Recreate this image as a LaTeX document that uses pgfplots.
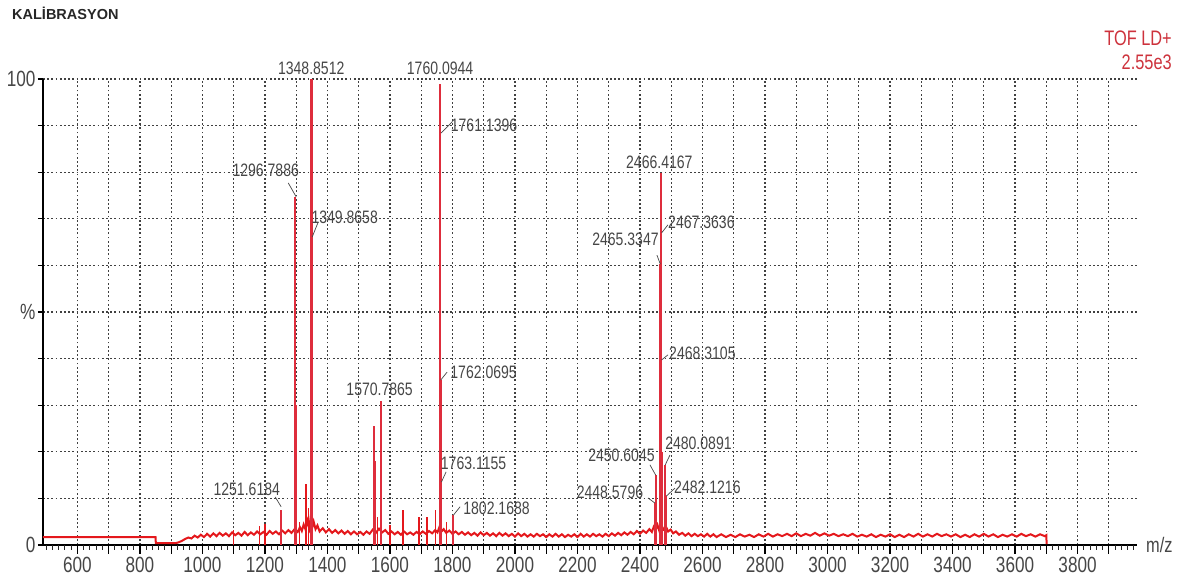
\documentclass[border=0pt]{standalone}
\usepackage{pgfplots}
\pgfplotsset{compat=1.18}
\usepackage{fontspec}
\setmainfont{Liberation Sans}
\newfontfamily\cf[FakeStretch=0.78]{Liberation Sans}
\definecolor{specred}{RGB}{228,24,28}
\definecolor{peakred}{RGB}{222,45,60}
\definecolor{labgray}{RGB}{70,70,70}
\definecolor{tofred}{RGB}{205,50,60}
\begin{document}
\begin{tikzpicture}
\path[use as bounding box] (0,0) rectangle (1179pt,586pt);
\begin{axis}[
  at={(43pt,41pt)}, anchor=south west,
  scale only axis, width=1094pt, height=466pt,
  xmin=490, xmax=3990, ymin=0, ymax=100,
  clip=false,
  axis x line*=bottom, axis y line*=left,
  axis line style={line width=2.4pt, black},
  xtick={600,700,...,3900},
  xticklabels={600,{},800,{},1000,{},1200,{},1400,{},1600,{},1800,{},2000,{},2200,{},2400,{},2600,{},2800,{},3000,{},3200,{},3400,{},3600,{},3800,{}},
  ytick={0,10,...,100},
  yticklabels={0,{},{},{},{},\%,{},{},{},{},100},
  tick align=outside,
  major tick length=5pt,
  major tick style={black, line width=1.1pt},
  xmajorgrids, ymajorgrids,
  major grid style={black!75, line width=1.3pt, dash pattern=on 1.8pt off 2.4pt},
  xticklabel style={font=\cf\fontsize{22}{22}\selectfont, text=labgray, yshift=-4pt},
  yticklabel style={font=\cf\fontsize{22}{22}\selectfont, text=labgray, xshift=1pt},
]
% noisy baseline
\addplot[specred, line width=2pt, mark=none] coordinates {
(490,1.7) (850,1.7) (851,0.4) (915,0.4) (925,0.6) (935,0.9) (945,1.3) (955,1.6)
(965,1.4) (975,2.0) (985,1.6) (995,2.2) (1005,1.7) (1015,2.4) (1025,1.8) (1035,2.5)
(1045,1.9) (1055,2.6) (1065,2.0) (1075,2.5) (1085,1.9) (1095,2.7) (1105,2.1) (1115,2.6)
(1125,2.0) (1135,2.8) (1145,2.1) (1155,2.7) (1165,2.2) (1175,2.9) (1185,2.3) (1195,2.8)
(1205,2.2) (1215,3.0) (1225,2.4) (1235,2.9) (1245,2.3) (1255,3.1) (1265,2.5) (1275,3.2)
(1285,2.6) (1295,3.4) (1305,2.8) (1312,3.8) (1318,3.0) (1324,4.4) (1330,3.3) (1336,5.2)
(1342,3.6) (1346,5.8) (1352,3.9) (1356,5.0) (1362,3.4) (1368,4.2) (1375,2.9) (1385,3.6)
(1395,2.7) (1405,3.4) (1415,2.6) (1425,3.2) (1435,2.5) (1445,3.1) (1455,2.4) (1465,3.0)
(1475,2.3) (1485,2.9) (1495,2.3) (1505,2.8) (1515,2.2) (1525,2.9) (1535,2.4) (1545,3.3)
(1555,2.6) (1565,3.5) (1575,2.7) (1585,3.2) (1595,2.4) (1605,2.9) (1615,2.3) (1625,2.8)
(1635,2.2) (1645,2.9) (1655,2.3) (1665,2.7) (1675,2.2) (1685,2.8) (1695,2.3) (1705,2.9)
(1715,2.4) (1725,3.0) (1735,2.5) (1745,3.2) (1752,2.7) (1758,3.8) (1765,2.9) (1772,3.4)
(1780,2.6) (1790,3.1) (1800,2.4) (1810,2.9) (1820,2.3) (1830,2.8) (1840,2.2) (1850,2.7)
(1860,2.1) (1870,2.6) (1880,2.0) (1890,2.7) (1900,2.1) (1910,2.6) (1920,2.0) (1930,2.5)
(1940,1.9) (1950,2.6) (1960,2.0) (1970,2.5) (1980,1.9) (1990,2.4) (2000,1.8) (2010,2.5)
(2020,1.9) (2030,2.4) (2040,1.8) (2050,2.3) (2060,1.8) (2070,2.4) (2080,1.9) (2090,2.3)
(2100,1.7) (2110,2.3) (2120,1.8) (2130,2.4) (2140,1.8) (2150,2.3) (2160,1.7) (2170,2.2)
(2180,1.8) (2190,2.3) (2200,1.7) (2210,2.4) (2220,1.8) (2230,2.3) (2240,1.8) (2250,2.4)
(2260,1.9) (2270,2.3) (2280,1.8) (2290,2.4) (2300,1.9) (2310,2.5) (2320,2.0) (2330,2.6)
(2340,2.1) (2350,2.7) (2360,2.2) (2370,2.8) (2380,2.3) (2390,3.0) (2400,2.4) (2410,3.1)
(2420,2.6) (2430,3.4) (2438,2.8) (2444,3.9) (2450,3.2) (2456,4.3) (2462,3.0) (2470,4.0)
(2476,3.3) (2484,3.8) (2490,2.9) (2498,3.3) (2506,2.5) (2515,2.9) (2525,2.2) (2535,2.6)
(2545,2.0) (2555,2.5) (2565,1.9) (2575,2.4) (2585,1.9) (2595,2.3) (2605,1.8) (2615,2.4)
(2625,1.8) (2635,2.3) (2645,1.7) (2660,2.3) (2675,1.7) (2690,2.2) (2705,1.7) (2720,2.3)
(2735,1.8) (2750,2.2) (2765,1.7) (2780,2.3) (2795,1.8) (2810,2.4) (2825,1.8) (2840,2.3)
(2855,1.9) (2870,2.4) (2885,1.9) (2900,2.5) (2915,1.9) (2930,2.4) (2945,2.0) (2960,2.6)
(2975,2.0) (2990,2.5) (3005,2.0) (3020,2.4) (3035,1.9) (3050,2.3) (3065,1.9) (3080,2.4)
(3095,1.8) (3110,2.2) (3125,1.8) (3140,2.3) (3155,1.7) (3170,2.2) (3185,1.8) (3200,2.3)
(3215,1.7) (3230,2.2) (3245,1.7) (3260,2.3) (3275,1.8) (3290,2.4) (3305,1.8) (3320,2.3)
(3335,1.8) (3350,2.4) (3365,1.9) (3380,2.3) (3395,1.8) (3410,2.3) (3425,1.7) (3440,2.2)
(3455,1.7) (3470,2.3) (3485,1.8) (3500,2.4) (3515,1.8) (3530,2.3) (3545,1.7) (3560,2.2)
(3575,1.8) (3590,2.3) (3605,1.8) (3620,2.4) (3635,1.9) (3650,2.3) (3665,1.8) (3680,2.3)
(3695,1.9) (3700,2.1) (3701,0.2)
};
% small spikes
\addplot[ycomb, specred, line width=1.4pt, mark=none] coordinates {
(1100,3.3) (1183,4.0) (1200,4.4) (1310,5.0) (1332,13.0) (1340,8.0) (1560,6.0)
(1600,4.2) (1642,7.5) (1693,6.0) (1719,6.0) (1745,7.5) (1780,5.0)
};
% main peaks
\addplot[ycomb, peakred, line width=2.2pt, mark=none] coordinates {
(1251.6184,7.5) (1296.7886,74.7) (1297.8,30) (1348.8512,100) (1349.8658,66.1)
(1350.9,25) (1351.9,10) (1549.5,25.5) (1551,18) (1570.7865,31) (1571.8,22)
(1760.0944,99) (1761.1396,88.4) (1762.0695,35.4) (1763.1155,13.5) (1802.1688,6.4)
(2448.5796,9.0) (2450.6045,15) (2465.3347,60.3) (2466.4167,79.8) (2467.3636,67)
(2468.3105,39.7) (2469.3,20) (2480.0891,17.2) (2482.1216,10.5)
};
% x axis tick marks (scale decoration)
\pgfplotsinvokeforeach{500,520,...,3980}{\draw[black!85, line width=1pt] (axis cs:#1,0) -- (axis cs:#1,-1.1);}
\pgfplotsinvokeforeach{600,700,...,3900}{\draw[black, line width=1.3pt] (axis cs:#1,0) -- (axis cs:#1,-1.9);}
% peak labels
\tikzset{pl/.style={font=\cf\fontsize{18}{18}\selectfont, text=labgray, inner sep=0pt, anchor=center}}
\node[pl] at (axis cs:1348.1,102.4) {1348.8512};
\node[pl] at (axis cs:1760.5,102.4) {1760.0944};
\node[pl] at (axis cs:1202.6,80.5) {1296.7886};
\node[pl] at (axis cs:1455.2,70.4) {1349.8658};
\node[pl] at (axis cs:1901,90.1) {1761.1396};
\node[pl] at (axis cs:1141.9,12.0) {1251.6184};
\node[pl] at (axis cs:1567,33.5) {1570.7865};
\node[pl] at (axis cs:1899.6,37.1) {1762.0695};
\node[pl] at (axis cs:1867.6,17.6) {1763.1155};
\node[pl] at (axis cs:1941,7.9) {1802.1688};
\node[pl] at (axis cs:2462,82.2) {2466.4167};
\node[pl] at (axis cs:2596.5,69.3) {2467.3636};
\node[pl] at (axis cs:2353.5,65.5) {2465.3347};
\node[pl] at (axis cs:2599.7,41.2) {2468.3105};
\node[pl] at (axis cs:2587,21.9) {2480.0891};
\node[pl] at (axis cs:2340.7,19.3) {2450.6045};
\node[pl] at (axis cs:2304,11.4) {2448.5796};
\node[pl] at (axis cs:2615.7,12.4) {2482.1216};
% leader lines
\begin{scope}[labgray, line width=0.7pt]
\draw (axis cs:1274.6,77.7) -- (axis cs:1300.1,74.7);
\draw (axis cs:1370.5,69.3) -- (axis cs:1351.3,66.1);
\draw (axis cs:1798.9,90.8) -- (axis cs:1763.7,88.4);
\draw (axis cs:1233,10.3) -- (axis cs:1252,8.2);
\draw (axis cs:1782.9,37.1) -- (axis cs:1762.5,35.4);
\draw (axis cs:1779.7,15.7) -- (axis cs:1764.7,13.5);
\draw (axis cs:1824.4,8.2) -- (axis cs:1803,6.4);
\draw (axis cs:2489.4,68.7) -- (axis cs:2469.4,67);
\draw (axis cs:2454.2,62.2) -- (axis cs:2464.9,60.3);
\draw (axis cs:2489.4,40.8) -- (axis cs:2469,39.7);
\draw (axis cs:2495.8,19.3) -- (axis cs:2480.8,17.2);
\draw (axis cs:2431.8,17.2) -- (axis cs:2450.2,15);
\draw (axis cs:2425.4,10.1) -- (axis cs:2447.8,9.0);
\draw (axis cs:2511.8,12.2) -- (axis cs:2484.4,10.5);
\end{scope}
\end{axis}
\node[anchor=west, inner sep=0pt, font=\bfseries\fontsize{14.5}{14.5}\selectfont, text=black!85] at (12pt,573pt) {KALİBRASYON};
\node[anchor=east, inner sep=0pt, font=\cf\fontsize{21}{21}\selectfont, text=tofred] at (1172pt,548pt) {TOF LD+};
\node[anchor=east, inner sep=0pt, font=\cf\fontsize{21}{21}\selectfont, text=tofred] at (1172pt,524pt) {2.55e3};
\node[anchor=west, inner sep=0pt, font=\cf\fontsize{21}{21}\selectfont, text=labgray] at (1146pt,41pt) {m/z};
\end{tikzpicture}
\end{document}
